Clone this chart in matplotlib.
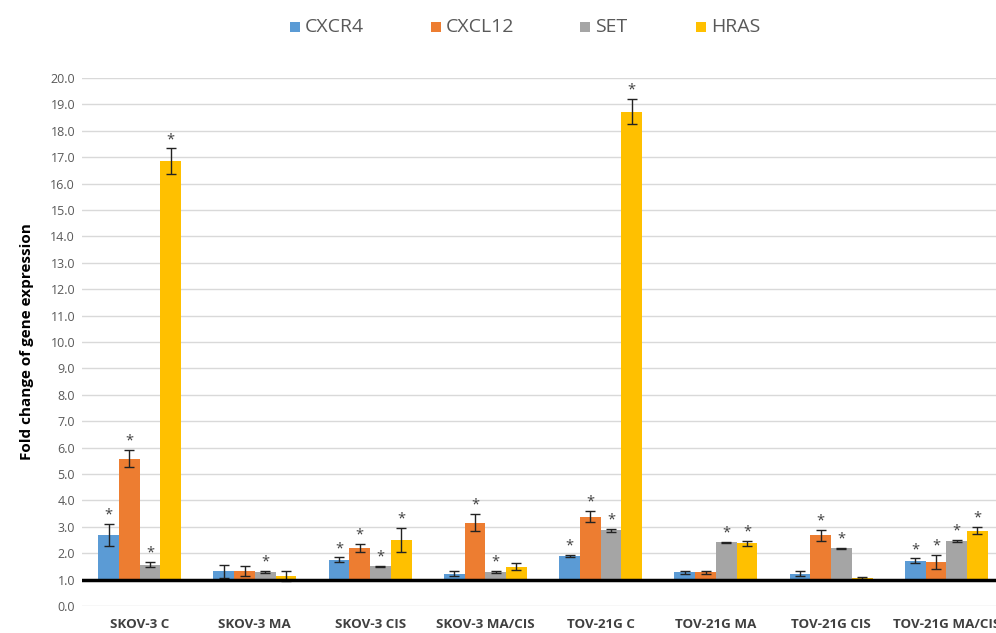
import numpy as np
import matplotlib.pyplot as plt
from matplotlib.patches import Rectangle

plt.rcParams['font.family'] = ['Open Sans', 'DejaVu Sans']

# ── data ────────────────────────────────────────────────
groups = ["SKOV-3 C", "SKOV-3 MA", "SKOV-3 CIS", "SKOV-3 MA/CIS",
          "TOV-21G C", "TOV-21G MA", "TOV-21G CIS", "TOV-21G MA/CIS"]
genes = ["CXCR4", "CXCL12", "SET", "HRAS"]

cxcr4  = [2.68, 1.32, 1.76, 1.23, 1.90, 1.28, 1.23, 1.71]
cxcl12 = [5.58, 1.32, 2.19, 3.16, 3.39, 1.28, 2.68, 1.67]
set_   = [1.57, 1.29, 1.51, 1.28, 2.86, 2.42, 2.19, 2.46]
hras   = [16.85, 1.14, 2.51, 1.49, 18.72, 2.37, 1.06, 2.85]

cxcr4_err  = [0.42, 0.25, 0.08, 0.08, 0.03, 0.05, 0.09, 0.09]
cxcl12_err = [0.32, 0.18, 0.16, 0.32, 0.22, 0.06, 0.21, 0.25]
set_err    = [0.10, 0.03, 0.02, 0.04, 0.07, 0.02, 0.02, 0.04]
hras_err   = [0.48, 0.20, 0.45, 0.12, 0.48, 0.10, 0.03, 0.13]

# significance flags (1 = asterisk)
cxcr4_sig  = [1, 0, 1, 0, 1, 0, 0, 1]
cxcl12_sig = [1, 0, 1, 1, 1, 0, 1, 1]
set_sig    = [1, 1, 1, 1, 1, 1, 1, 1]
hras_sig   = [1, 0, 1, 0, 1, 1, 0, 1]

colors = ["#5B9BD5", "#ED7D31", "#A5A5A5", "#FFC000"]
base = 1.0

W, H = 996, 633
fig = plt.figure(figsize=(W/100, H/100), dpi=100)
# plot area runs a bit past the right edge, like the cropped original
ax = fig.add_axes([82/W, 27/H, 922/W, 528/H])

x = np.arange(len(groups))
w = 0.18
series = [(cxcr4, cxcr4_err, cxcr4_sig), (cxcl12, cxcl12_err, cxcl12_sig),
          (set_, set_err, set_sig), (hras, hras_err, hras_sig)]
for i, ((vals, errs, sig), c, g) in enumerate(zip(series, colors, genes)):
    xs = x + (i - 1.5) * w
    v = np.array(vals)
    ax.bar(xs, v - base, bottom=base, width=w, color=c, label=g, zorder=2)
    ax.errorbar(xs, v, yerr=errs, fmt="none", ecolor="#222222",
                elinewidth=1, capsize=3.5, capthick=1, zorder=3)
    for xi, vi, ei, s in zip(xs, v, errs, sig):
        if s:
            ax.annotate("*", (xi, vi + ei), xytext=(0, 1), textcoords="offset points",
                        ha="center", va="bottom", fontsize=10.5, color="#404040", zorder=4)

ax.axhline(base, color="black", lw=2.5, zorder=3)
ax.set_ylim(0, 20)
ax.set_xlim(-0.5, len(groups) - 0.5)
ax.set_yticks(np.arange(0, 21, 1))
ax.set_yticklabels([f"{t:.1f}" for t in np.arange(0, 21, 1)])
ax.yaxis.grid(True, color="#D9D9D9", lw=1, zorder=0)
ax.set_axisbelow(True)
for s in ax.spines.values():
    s.set_visible(False)
ax.tick_params(axis="y", length=0, labelsize=9, labelcolor="#595959", pad=5)
ax.tick_params(axis="x", length=0, pad=9)
ax.set_xticks(x)
ax.set_xticklabels(groups, fontsize=9.6, fontweight="bold", color="#404040")
ax.set_ylabel("Fold change of gene expression", fontsize=11, fontweight="bold",
              color="black", labelpad=12)

# legend drawn by hand (Excel-style spacing)
leg_x = [290, 431, 580, 696]   # left edge of each square, px
for lx, c, g in zip(leg_x, colors, genes):
    fig.add_artist(Rectangle((lx/W, 1 - 32/H), 10/W, 10/H, transform=fig.transFigure,
                             color=c, lw=0))
    fig.text((lx + 15)/W, 1 - 27/H, g, fontsize=14, color="#595959", va="center", ha="left")

plt.savefig("out.png", dpi=100)
